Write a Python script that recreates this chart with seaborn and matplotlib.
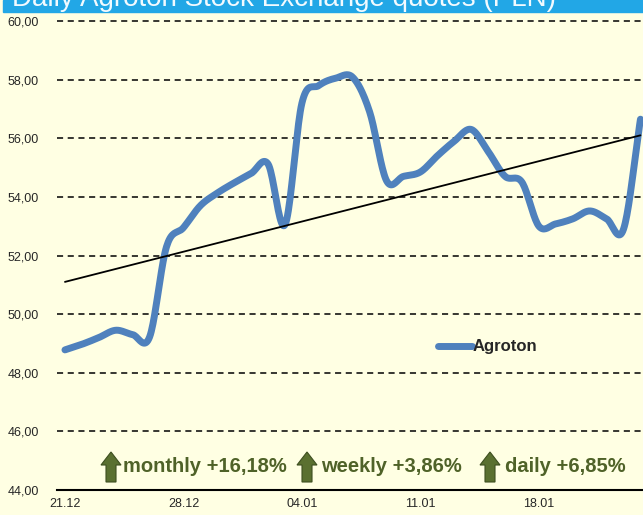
import numpy as np
import pandas as pd
import matplotlib
matplotlib.use('Agg')
import matplotlib.pyplot as plt
import seaborn as sns

# dados diarios (dias desde 21.12)
dias = list(range(35))
precos = [48.78, 48.97, 49.20, 49.45, 49.30, 49.22, 52.30, 52.95, 53.70, 54.13,
          54.48, 54.80, 55.12, 53.05, 57.20, 57.80, 58.05, 58.08, 56.90, 54.55,
          54.70, 54.85, 55.40, 55.90, 56.30, 55.55, 54.70, 54.50, 53.00, 53.08,
          53.25, 53.52, 53.25, 52.90, 56.65]
# linha de tendencia
tend_dias = [0, 34]
tend_valores = [51.10, 56.10]
tick_dias = [0, 7, 14, 21, 28]
tick_rotulos = ['21.12', '28.12', '04.01', '11.01', '18.01']
y_ticks = [44, 46, 48, 50, 52, 54, 56, 58, 60]
variacoes = ['monthly +16,18%', 'weekly +3,86%', 'daily +6,85%']
titulo = 'Daily Agroton Stock Exchange quotes (PLN)'

fundo = '#FFFFE3'
azul = '#4F81BD'
verde = '#4F6228'
W, H = 643, 515


def suavizar(x, y, n=20):
    # curva suavizada estilo Excel (Catmull-Rom)
    x = np.asarray(x, float)
    y = np.asarray(y, float)
    px = np.concatenate([[2 * x[0] - x[1]], x, [2 * x[-1] - x[-2]]])
    py = np.concatenate([[2 * y[0] - y[1]], y, [2 * y[-1] - y[-2]]])
    xs, ys = [], []
    t = np.linspace(0, 1, n, endpoint=False)
    for i in range(1, len(px) - 2):
        for p, out in ((px, xs), (py, ys)):
            p0, p1, p2, p3 = p[i - 1], p[i], p[i + 1], p[i + 2]
            out.extend(0.5 * ((2 * p1) + (-p0 + p2) * t
                              + (2 * p0 - 5 * p1 + 4 * p2 - p3) * t ** 2
                              + (-p0 + 3 * p1 - 3 * p2 + p3) * t ** 3))
    xs.append(x[-1])
    ys.append(y[-1])
    return np.array(xs), np.array(ys)


def seta(x0, ytop):
    # seta verde para cima, em pixels da figura
    pts = [(x0 + 10, ytop), (x0 + 20, ytop + 13), (x0 + 15, ytop + 13), (x0 + 15, ytop + 30),
           (x0 + 5, ytop + 30), (x0 + 5, ytop + 13), (x0, ytop + 13)]
    pts = [(px / W, 1 - py / H) for px, py in pts]
    fig.patches.append(plt.Polygon(pts, closed=True, transform=fig.transFigure,
                                   facecolor='#5A7030', edgecolor='#3E4F20', lw=0.8))


sns.set_style('white')
plt.rcParams['font.family'] = ['Liberation Sans', 'DejaVu Sans']

fig = plt.figure(figsize=(W / 100, H / 100), dpi=100, facecolor=fundo)
ax = fig.add_axes([57 / W, 1 - 490 / H, 1 - 57 / W, (490 - 21) / H])
ax.set_facecolor(fundo)

xs, ys = suavizar(dias, precos)
df_curva = pd.DataFrame({'dia': xs, 'preco': ys})
sns.lineplot(data=df_curva, x='dia', y='preco', color=azul, lw=5, label='Agroton',
             solid_capstyle='round', ax=ax, zorder=3, sort=False)
sns.lineplot(x=tend_dias, y=tend_valores, color='black', lw=1.3, ax=ax, zorder=4)

ax.set_xlim(-0.47, 34.15)
ax.set_ylim(44, 60)
ax.set_yticks(y_ticks)
ax.set_yticklabels([f'{v:.2f}'.replace('.', ',') for v in y_ticks], fontsize=9)
ax.set_xticks(tick_dias)
ax.set_xticklabels(tick_rotulos, fontsize=9)
ax.tick_params(axis='y', length=0, pad=13)
ax.tick_params(axis='x', length=0, pad=6)
ax.set_xlabel('')
ax.set_ylabel('')
for v in y_ticks[1:]:
    ax.axhline(v, color='black', ls=(0, (4, 3)), lw=1.1, zorder=1, clip_on=False)
for lado in ['left', 'right', 'top']:
    ax.spines[lado].set_visible(False)
ax.spines['bottom'].set_color('black')
ax.spines['bottom'].set_linewidth(1.5)

leg = ax.legend(loc='center', bbox_to_anchor=(0.735, 0.305), frameon=False,
                handlelength=2.0, handletextpad=0.05, prop={'weight': 'bold', 'size': 12})

# faixa do titulo (cortada no topo)
fig.patches.append(plt.Rectangle((3 / W, 1 - 12 / H), 1, 12 / H,
                                 transform=fig.transFigure, color='#22A7E6', zorder=0))
fig.text(12 / W, 1 - 6 / H, titulo, color='#F2FAFF', fontsize=20, va='baseline', ha='left')

# variacoes
posicoes = [(101, 123), (297, 321), (480, 505)]
for (xa, xt), texto in zip(posicoes, variacoes):
    seta(xa, 452)
    fig.text(xt / W, 1 - 467 / H, texto, color=verde, fontsize=14.5,
             weight='bold', va='center', ha='left')

fig.savefig('out.png', dpi=100, facecolor=fundo)
